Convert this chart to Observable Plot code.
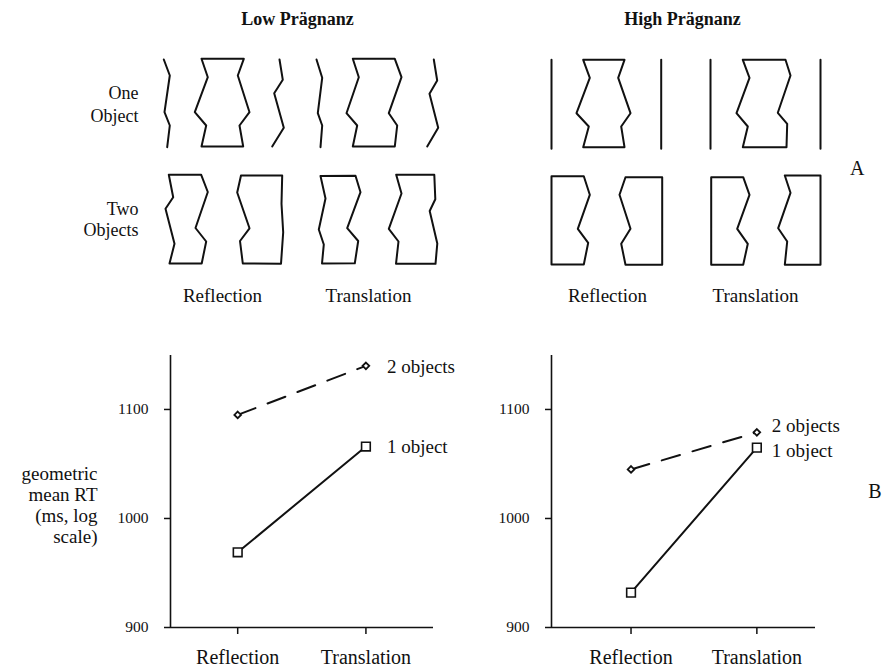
<!DOCTYPE html>
<html>
<head>
<meta charset="utf-8">
<script src="https://cdn.jsdelivr.net/npm/d3@7"></script>
<script src="https://cdn.jsdelivr.net/npm/@observablehq/plot@0.6"></script>
<style>
  html, body { margin: 0; padding: 0; background: #fff; }
  #fig { position: relative; width: 894px; height: 667px; overflow: hidden; background: #fff; }
  #fig svg { position: absolute; }
</style>
</head>
<body>
<div id="fig"></div>
<script>
// ---------------- DATA ----------------
const conditions = ["Reflection", "Translation"];
const seriesNames = ["2 objects", "1 object"];
const yTicks = [900, 1000, 1100];

// geometric mean RT (ms)
const lowTwoObjects  = [1095, 1140];
const lowOneObject   = [969, 1066];
const highTwoObjects = [1045, 1079];
const highOneObject  = [932, 1065];

const panelTitles = ["Low Prägnanz", "High Prägnanz"];
const rowLabels = ["One", "Object", "Two", "Objects"];
const columnLabels = ["Reflection", "Translation", "Reflection", "Translation"];
const panelLetters = ["A", "B"];
const yTitle = "geometric\nmean RT\n(ms, log\nscale)";

// stimulus contours (figure units), each an open line or closed polygon
const lowOneReflection = [
  [[163.3,59],[169.3,75],[164,111.7],[169.3,125],[166.7,146.7]],
  [[201,58.3],[243.3,58.3],[237.3,75],[249,111.7],[239,125],[242.7,146],[201,146],[205.7,125],[194.3,111.7],[207.3,76.7],[201,58.3]],
  [[279,59],[282.3,79.3],[273.7,92.7],[283.3,127.3],[271.7,146]]
];
const lowOneTranslation = [
  [[316,59],[321.7,77.3],[317.3,112.7],[321.7,125],[320,146.7]],
  [[352.3,58.3],[394.3,58.3],[401,76.7],[388.3,112.7],[396.7,125],[394.3,146],[352.3,146],[356.7,125],[346,112.7],[358.3,76.7],[352.3,58.3]],
  [[433.3,59],[436.7,80],[429,93.3],[437.7,127.3],[426.7,146]]
];
const lowTwoReflection = [
  [[168.3,174.3],[200.7,174.3],[207.3,191.5],[195,227.5],[205.7,241],[201.2,263],[169,263],[174,243.3],[165,208.3],[172.7,196.7],[168.3,174.3]],
  [[240.5,175],[281.7,175],[281,203.3],[282.7,231.7],[280.5,263.3],[242.3,263],[239.5,240.5],[249,227.8],[236.7,192],[240.5,175]]
];
const lowTwoTranslation = [
  [[320,175.5],[355,175.2],[360,191.7],[346.7,227.7],[357.7,240.5],[354.3,262.8],[321.5,263],[323.3,244],[318.3,229],[325,198],[320,175.5]],
  [[395.7,174.3],[433.8,174.3],[434.8,198.8],[429.2,210.5],[436.8,243],[435,263.3],[395.5,263.3],[398,241],[388.3,228.3],[401,193],[395.7,174.3]]
];
const highOneReflection = [
  [[551,59.3],[551,148.3]],
  [[582.7,59.3],[624,59.3],[617.7,77.3],[630,112.7],[620.7,126],[624,146.7],[582.7,146.7],[588.3,126],[576,112.7],[589.3,77.3],[582.7,59.3]],
  [[660.7,59.3],[660.7,148.3]]
];
const highOneTranslation = [
  [[710,59.3],[710,148.3]],
  [[742.3,59.3],[785,59.3],[790,75],[777.3,112.3],[786.7,123.3],[786,146.7],[742.3,146.7],[747.3,126],[736,112.7],[749,77.3],[742.3,59.3]],
  [[820,59.3],[820,148.3]]
];
const highTwoReflection = [
  [[551,175.7],[583.3,175.7],[589.3,194.3],[577.3,228.3],[587.7,242.3],[583.3,264],[551,264],[551,175.7]],
  [[625,176.7],[661.7,176.7],[661.7,264.3],[625,264.3],[620.7,243.3],[630,228.3],[619,194.3],[625,176.7]]
];
const highTwoTranslation = [
  [[710.7,176.7],[742.7,176.7],[749,194.3],[736.7,228.3],[747.3,243.3],[742.7,264.3],[710.7,264.3],[710.7,176.7]],
  [[784.3,175],[820,175],[820,264.3],[784.3,264.3],[786.7,241],[777.7,227.7],[790,192.3],[784.3,175]]
];

// ---------------- RENDER ----------------
const FONT = "'Liberation Serif', 'Times New Roman', serif";
const INK = "#111";
const fig = document.getElementById("fig");

function place(svg, left, top) {
  svg.style.position = "absolute";
  svg.style.left = left + "px";
  svg.style.top = top + "px";
  fig.appendChild(svg);
}

// ---- Part A: stimuli ----
const stimulusPanels = [lowOneReflection, lowOneTranslation, lowTwoReflection, lowTwoTranslation,
  highOneReflection, highOneTranslation, highTwoReflection, highTwoTranslation];
const stimulusRows = stimulusPanels.flatMap((panel, pi) =>
  panel.flatMap((contour, ci) => contour.map(([x, y]) => ({x, y, id: pi + "-" + ci}))));

const titleX = [297, 682];
const rowLabelY = [92.5, 116, 208.5, 230];
const colLabelX = [222, 368, 607, 755];

const topPlot = Plot.plot({
  width: 894, height: 330, margin: 0,
  x: {type: "linear", domain: [0, 894], range: [0, 894], axis: null},
  y: {type: "linear", domain: [0, 330], range: [0, 330], axis: null},
  style: {fontFamily: FONT, color: INK, background: "#fff", overflow: "visible"},
  marks: [
    Plot.line(stimulusRows, {x: "x", y: "y", z: "id", stroke: INK, strokeWidth: 2,
      strokeLinejoin: "round", strokeLinecap: "round"}),
    Plot.text(panelTitles, {x: (d, i) => titleX[i], y: () => 19, text: d => d,
      fontWeight: "bold", fontSize: 18, fill: INK}),
    Plot.text(rowLabels, {x: () => 138, y: (d, i) => rowLabelY[i], text: d => d,
      textAnchor: "end", fontSize: 18, fill: INK}),
    Plot.text(columnLabels, {x: (d, i) => colLabelX[i], y: () => 295, text: d => d,
      fontSize: 19, fill: INK}),
    Plot.text([panelLetters[0]], {frameAnchor: "right", dx: -30, dy: 3, fontSize: 20, fill: INK})
  ]
});
place(topPlot, 0, 0);

// ---- Part B: RT charts ----
function rtChart({two, one, width, marginLeft, marginRight, xDomain, dx2, dy2, dx1, dy1, showTitle, showLetter}) {
  const rows2 = two.map((v, i) => ({x: i, y: v, series: seriesNames[0]}));
  const rows1 = one.map((v, i) => ({x: i, y: v, series: seriesNames[1]}));
  const marks = [
    Plot.ruleY([yTicks[0]], {stroke: INK, strokeWidth: 1.6}),
    Plot.ruleX([xDomain[0]], {stroke: INK, strokeWidth: 1.6}),
    Plot.axisY({ticks: yTicks, tickFormat: () => "", tickSize: 6, stroke: INK, strokeWidth: 1.5, label: null}),
    Plot.text(yTicks, {y: d => d, text: d => String(d), frameAnchor: "left", dx: -22, textAnchor: "end",
      fontSize: 15.5, fill: INK}),
    Plot.axisX({ticks: [0, 1], tickFormat: i => conditions[i], tickSize: 7, tickPadding: 15,
      fontSize: 20, stroke: INK, strokeWidth: 1.5, fill: INK, label: null}),
    Plot.line(rows2, {x: "x", y: "y", stroke: INK, strokeWidth: 2, strokeDasharray: "19,13"}),
    Plot.line(rows1, {x: "x", y: "y", stroke: INK, strokeWidth: 2}),
    Plot.dot(rows2, {x: "x", y: "y", symbol: "diamond2", r: 3, fill: "#fff", stroke: INK, strokeWidth: 1.8}),
    Plot.dot(rows1, {x: "x", y: "y", symbol: "square", r: 4.9, fill: "#fff", stroke: INK, strokeWidth: 1.6}),
    Plot.text(rows2.slice(1), {x: "x", y: "y", text: "series", dx: dx2, dy: dy2, textAnchor: "start", fontSize: 19, fill: INK}),
    Plot.text(rows1.slice(1), {x: "x", y: "y", text: "series", dx: dx1, dy: dy1, textAnchor: "start", fontSize: 19, fill: INK})
  ];
  if (showTitle) marks.push(Plot.text([yTitle], {frameAnchor: "left", dx: -73, dy: 13, textAnchor: "end",
    lineHeight: 1.1, fontSize: 19, fill: INK}));
  if (showLetter) marks.push(Plot.text([panelLetters[1]], {frameAnchor: "right", dx: 66, dy: 0, fontSize: 20, fill: INK}));
  return Plot.plot({
    width, height: 337, marginTop: 25, marginBottom: 40, marginLeft, marginRight,
    x: {type: "linear", domain: xDomain, axis: null},
    y: {type: "linear", domain: [900, 1149.5], axis: null},
    style: {fontFamily: FONT, color: INK, background: "transparent", overflow: "visible"},
    marks
  });
}

place(rtChart({two: lowTwoObjects, one: lowOneObject, width: 460, marginLeft: 170, marginRight: 27,
  xDomain: [-0.524, 1.527], dx2: 21, dy2: 1, dx1: 21, dy1: 0, showTitle: true, showLetter: false}), 0, 330);
place(rtChart({two: highTwoObjects, one: highOneObject, width: 434, marginLeft: 91, marginRight: 79,
  xDomain: [-0.632, 1.466], dx2: 15, dy2: -6, dx1: 15, dy1: 3, showTitle: false, showLetter: true}), 460, 330);
</script>
</body>
</html>
